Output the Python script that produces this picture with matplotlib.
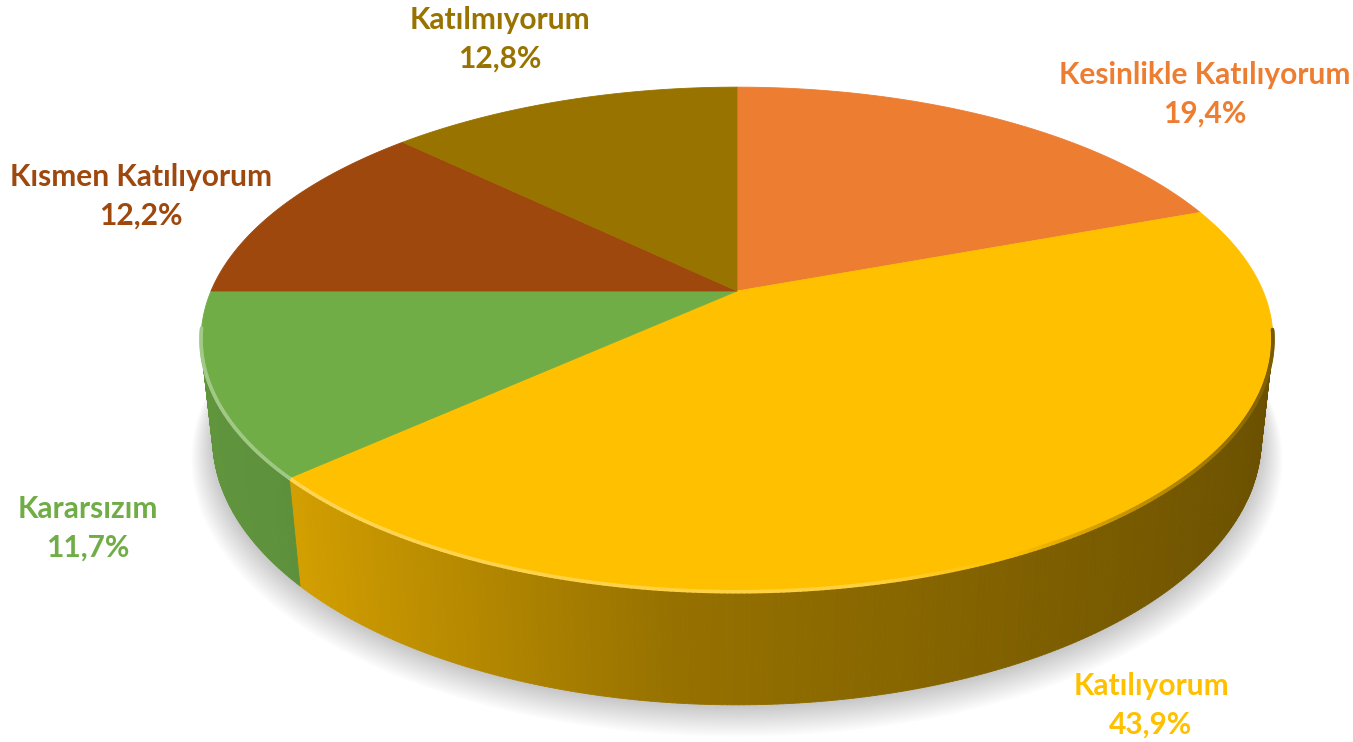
import numpy as np
import matplotlib.pyplot as plt
from matplotlib.patches import Polygon
from matplotlib.collections import PolyCollection, LineCollection
from matplotlib.colors import to_rgb

# data
labels = ['Kesinlikle Katılıyorum', 'Katılıyorum', 'Kararsızım', 'Kısmen Katılıyorum', 'Katılmıyorum']
values = [19.4, 43.9, 11.7, 12.2, 12.8]
colors = ['#ED7D31', '#FFC000', '#70AD47', '#9E480E', '#997300']

# label centres in pixel coords (layout)
label_pos = [(1205, 94), (1151, 705), (88, 528), (141, 196), (500, 39)]

W, H = 1353, 742

# 3d view of the pie (pixel units)
CX, CY = 737, 291
SIN_T = 0.462
COS_T = np.sqrt(1 - SIN_T ** 2)
DIST = 4.62
FOC = 2430
DEPTH = 0.215


def proj(theta, z, r=1.0):
    X = r * np.cos(theta)
    Y = r * np.sin(theta)
    den = DIST + Y * COS_T - z * SIN_T
    sx = CX + FOC * X / den
    sy = CY - FOC * (Y * SIN_T + z * COS_T) / den
    return sx, sy


def shade(col, f):
    c = np.array(to_rgb(col))
    if f >= 0:
        return tuple(c + (1 - c) * f)
    return tuple(c * (1 + f))


fig = plt.figure(figsize=(W / 100, H / 100), dpi=100)
ax = fig.add_axes([0, 0, 1, 1])
ax.set_xlim(0, W)
ax.set_ylim(H, 0)
ax.axis('off')

# soft shadow under the pie
full = np.radians(np.linspace(0, 360, 361))
for k in range(14):
    sx, sy = proj(full, -DEPTH, r=1.0 + 0.003 * k)
    ax.add_patch(Polygon(np.column_stack([sx, sy + 2 + k * 1.1]), closed=True,
                         facecolor='black', edgecolor='none', alpha=0.014, zorder=1))

bounds = 90 - 360 * np.concatenate([[0], np.cumsum(values)]) / sum(values)

# side walls
quads, qcols = [], []
edges, ecols = [], []
for i in range(len(values)):
    a0, a1 = bounds[i], bounds[i + 1]
    n = max(int(abs(a0 - a1) * 2), 2)
    th = np.radians(np.linspace(a0, a1, n + 1))
    for j in range(n):
        t0, t1 = th[j], th[j + 1]
        tm = (t0 + t1) / 2
        if np.sin(tm) > -0.15:
            continue
        x0, y0 = proj(t0, 0)
        x1, y1 = proj(t1, 0)
        x2, y2 = proj(t1, -DEPTH)
        x3, y3 = proj(t0, -DEPTH)
        c = np.cos(tm)
        f = np.interp(c, [-1, -0.77, -0.1, 0.94, 1], [0.86, 0.84, 0.59, 0.42, 0.41])
        quads.append([(x0, y0), (x1, y1), (x2, y2), (x3, y3)])
        qcols.append(shade(colors[i], f - 1))
        edges.append([(x0, y0), (x1, y1)])
        hl = np.interp(c, [-1, 0.2, 0.6, 1], [0.35, 0.25, -0.2, -0.55])
        ecols.append(shade(colors[i], hl))

ax.add_collection(PolyCollection(quads, facecolors=qcols, edgecolors=qcols,
                                 linewidths=0.6, zorder=2))

# top faces
for i in range(len(values)):
    th = np.radians(np.linspace(bounds[i], bounds[i + 1], 200))
    sx, sy = proj(th, 0)
    pts = np.column_stack([np.r_[CX, sx], np.r_[CY, sy]])
    ax.add_patch(Polygon(pts, closed=True, facecolor=colors[i], edgecolor=colors[i],
                         linewidth=0.6, zorder=3))

# bevel highlight along the front rim
ax.add_collection(LineCollection(edges, colors=ecols, linewidths=2.6, zorder=4,
                                 capstyle='round'))

# labels
for lab, v, col, (lx, ly) in zip(labels, values, colors, label_pos):
    txt = lab + '\n' + f'{v:.1f}%'.replace('.', ',')
    ax.text(lx, ly, txt, ha='center', va='center', color=col, fontsize=21.5,
            fontweight='bold', family=['Lato', 'DejaVu Sans'], linespacing=1.45,
            zorder=5)

fig.savefig('out.png', dpi=100)
